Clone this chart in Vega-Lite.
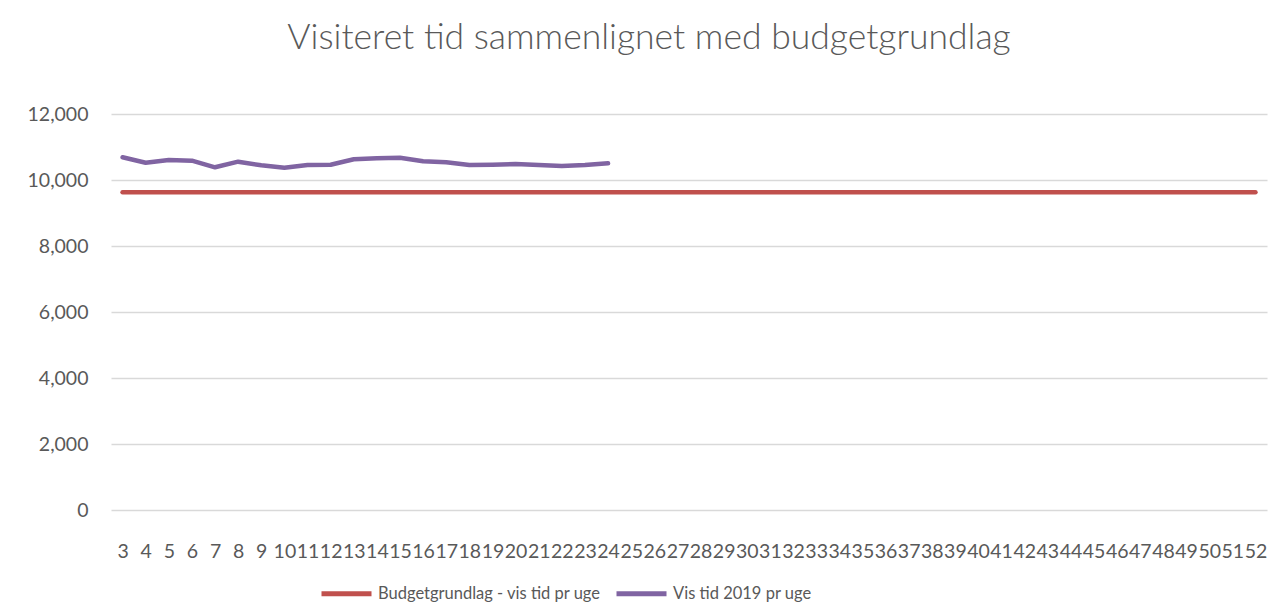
{
  "$schema": "https://vega.github.io/schema/vega-lite/v6.json",
  "width": 1156,
  "height": 396,
  "autosize": {"type": "none"},
  "padding": {"left": 111, "top": 114, "right": 17, "bottom": 105},
  "background": "white",
  "title": {
    "text": "Visiteret tid sammenlignet med budgetgrundlag",
    "font": "Lato",
    "fontSize": 35.5,
    "fontWeight": 300,
    "color": "#595959",
    "anchor": "middle",
    "baseline": "alphabetic",
    "offset": 20,
    "dx": -40
  },
  "data": {
    "values": [
      {"uge": 3, "serie": "Budgetgrundlag - vis tid pr uge", "tid": 9630},
      {"uge": 4, "serie": "Budgetgrundlag - vis tid pr uge", "tid": 9630},
      {"uge": 5, "serie": "Budgetgrundlag - vis tid pr uge", "tid": 9630},
      {"uge": 6, "serie": "Budgetgrundlag - vis tid pr uge", "tid": 9630},
      {"uge": 7, "serie": "Budgetgrundlag - vis tid pr uge", "tid": 9630},
      {"uge": 8, "serie": "Budgetgrundlag - vis tid pr uge", "tid": 9630},
      {"uge": 9, "serie": "Budgetgrundlag - vis tid pr uge", "tid": 9630},
      {"uge": 10, "serie": "Budgetgrundlag - vis tid pr uge", "tid": 9630},
      {"uge": 11, "serie": "Budgetgrundlag - vis tid pr uge", "tid": 9630},
      {"uge": 12, "serie": "Budgetgrundlag - vis tid pr uge", "tid": 9630},
      {"uge": 13, "serie": "Budgetgrundlag - vis tid pr uge", "tid": 9630},
      {"uge": 14, "serie": "Budgetgrundlag - vis tid pr uge", "tid": 9630},
      {"uge": 15, "serie": "Budgetgrundlag - vis tid pr uge", "tid": 9630},
      {"uge": 16, "serie": "Budgetgrundlag - vis tid pr uge", "tid": 9630},
      {"uge": 17, "serie": "Budgetgrundlag - vis tid pr uge", "tid": 9630},
      {"uge": 18, "serie": "Budgetgrundlag - vis tid pr uge", "tid": 9630},
      {"uge": 19, "serie": "Budgetgrundlag - vis tid pr uge", "tid": 9630},
      {"uge": 20, "serie": "Budgetgrundlag - vis tid pr uge", "tid": 9630},
      {"uge": 21, "serie": "Budgetgrundlag - vis tid pr uge", "tid": 9630},
      {"uge": 22, "serie": "Budgetgrundlag - vis tid pr uge", "tid": 9630},
      {"uge": 23, "serie": "Budgetgrundlag - vis tid pr uge", "tid": 9630},
      {"uge": 24, "serie": "Budgetgrundlag - vis tid pr uge", "tid": 9630},
      {"uge": 25, "serie": "Budgetgrundlag - vis tid pr uge", "tid": 9630},
      {"uge": 26, "serie": "Budgetgrundlag - vis tid pr uge", "tid": 9630},
      {"uge": 27, "serie": "Budgetgrundlag - vis tid pr uge", "tid": 9630},
      {"uge": 28, "serie": "Budgetgrundlag - vis tid pr uge", "tid": 9630},
      {"uge": 29, "serie": "Budgetgrundlag - vis tid pr uge", "tid": 9630},
      {"uge": 30, "serie": "Budgetgrundlag - vis tid pr uge", "tid": 9630},
      {"uge": 31, "serie": "Budgetgrundlag - vis tid pr uge", "tid": 9630},
      {"uge": 32, "serie": "Budgetgrundlag - vis tid pr uge", "tid": 9630},
      {"uge": 33, "serie": "Budgetgrundlag - vis tid pr uge", "tid": 9630},
      {"uge": 34, "serie": "Budgetgrundlag - vis tid pr uge", "tid": 9630},
      {"uge": 35, "serie": "Budgetgrundlag - vis tid pr uge", "tid": 9630},
      {"uge": 36, "serie": "Budgetgrundlag - vis tid pr uge", "tid": 9630},
      {"uge": 37, "serie": "Budgetgrundlag - vis tid pr uge", "tid": 9630},
      {"uge": 38, "serie": "Budgetgrundlag - vis tid pr uge", "tid": 9630},
      {"uge": 39, "serie": "Budgetgrundlag - vis tid pr uge", "tid": 9630},
      {"uge": 40, "serie": "Budgetgrundlag - vis tid pr uge", "tid": 9630},
      {"uge": 41, "serie": "Budgetgrundlag - vis tid pr uge", "tid": 9630},
      {"uge": 42, "serie": "Budgetgrundlag - vis tid pr uge", "tid": 9630},
      {"uge": 43, "serie": "Budgetgrundlag - vis tid pr uge", "tid": 9630},
      {"uge": 44, "serie": "Budgetgrundlag - vis tid pr uge", "tid": 9630},
      {"uge": 45, "serie": "Budgetgrundlag - vis tid pr uge", "tid": 9630},
      {"uge": 46, "serie": "Budgetgrundlag - vis tid pr uge", "tid": 9630},
      {"uge": 47, "serie": "Budgetgrundlag - vis tid pr uge", "tid": 9630},
      {"uge": 48, "serie": "Budgetgrundlag - vis tid pr uge", "tid": 9630},
      {"uge": 49, "serie": "Budgetgrundlag - vis tid pr uge", "tid": 9630},
      {"uge": 50, "serie": "Budgetgrundlag - vis tid pr uge", "tid": 9630},
      {"uge": 51, "serie": "Budgetgrundlag - vis tid pr uge", "tid": 9630},
      {"uge": 52, "serie": "Budgetgrundlag - vis tid pr uge", "tid": 9630},
      {"uge": 3, "serie": "Vis tid 2019 pr uge", "tid": 10688},
      {"uge": 4, "serie": "Vis tid 2019 pr uge", "tid": 10524},
      {"uge": 5, "serie": "Vis tid 2019 pr uge", "tid": 10606},
      {"uge": 6, "serie": "Vis tid 2019 pr uge", "tid": 10585},
      {"uge": 7, "serie": "Vis tid 2019 pr uge", "tid": 10385},
      {"uge": 8, "serie": "Vis tid 2019 pr uge", "tid": 10555},
      {"uge": 9, "serie": "Vis tid 2019 pr uge", "tid": 10445},
      {"uge": 10, "serie": "Vis tid 2019 pr uge", "tid": 10373},
      {"uge": 11, "serie": "Vis tid 2019 pr uge", "tid": 10455},
      {"uge": 12, "serie": "Vis tid 2019 pr uge", "tid": 10464},
      {"uge": 13, "serie": "Vis tid 2019 pr uge", "tid": 10627},
      {"uge": 14, "serie": "Vis tid 2019 pr uge", "tid": 10658},
      {"uge": 15, "serie": "Vis tid 2019 pr uge", "tid": 10676},
      {"uge": 16, "serie": "Vis tid 2019 pr uge", "tid": 10567},
      {"uge": 17, "serie": "Vis tid 2019 pr uge", "tid": 10536},
      {"uge": 18, "serie": "Vis tid 2019 pr uge", "tid": 10455},
      {"uge": 19, "serie": "Vis tid 2019 pr uge", "tid": 10464},
      {"uge": 20, "serie": "Vis tid 2019 pr uge", "tid": 10485},
      {"uge": 21, "serie": "Vis tid 2019 pr uge", "tid": 10455},
      {"uge": 22, "serie": "Vis tid 2019 pr uge", "tid": 10424},
      {"uge": 23, "serie": "Vis tid 2019 pr uge", "tid": 10455},
      {"uge": 24, "serie": "Vis tid 2019 pr uge", "tid": 10506}
    ]
  },
  "mark": {"type": "line", "strokeWidth": 4.5, "strokeCap": "round", "strokeJoin": "round"},
  "encoding": {
    "x": {
      "field": "uge",
      "type": "ordinal",
      "sort": "ascending",
      "scale": {"type": "point", "padding": 0.5},
      "axis": {
        "title": null,
        "labelAngle": 0,
        "labelOverlap": false,
        "labelFont": "Lato",
        "labelFontSize": 19.5,
        "labelColor": "#595959",
        "labelPadding": 32,
        "domain": false,
        "ticks": false,
        "grid": false
      }
    },
    "y": {
      "field": "tid",
      "type": "quantitative",
      "scale": {"domain": [0, 12000], "nice": false},
      "axis": {
        "title": null,
        "values": [0, 2000, 4000, 6000, 8000, 10000, 12000],
        "format": ",d",
        "labelFont": "Lato",
        "labelFontSize": 19.5,
        "labelColor": "#595959",
        "labelPadding": 23,
        "domain": false,
        "ticks": false,
        "grid": true,
        "gridColor": "#D9D9D9",
        "gridWidth": 1.3
      }
    },
    "color": {
      "field": "serie",
      "type": "nominal",
      "scale": {
        "domain": ["Budgetgrundlag - vis tid pr uge", "Vis tid 2019 pr uge"],
        "range": ["#C0504D", "#8064A2"]
      },
      "legend": {
        "title": null,
        "orient": "none",
        "direction": "horizontal",
        "legendX": 208,
        "legendY": 452,
        "symbolType": "stroke",
        "symbolSize": 2500,
        "symbolStrokeWidth": 5,
        "labelFont": "Lato",
        "labelFontSize": 16.5,
        "labelColor": "#595959",
        "labelOffset": 4,
        "columnPadding": 5,
        "labelLimit": 400
      }
    }
  },
  "config": {
    "view": {"stroke": null}
  }
}
